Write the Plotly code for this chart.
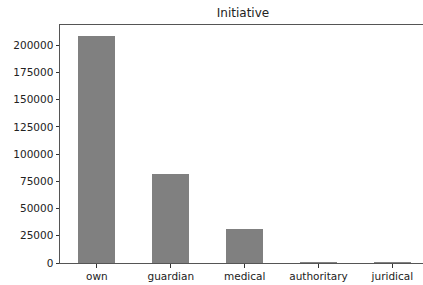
import plotly.graph_objects as go

categories = ["own", "guardian", "medical", "authoritary", "juridical"]
counts = [208200, 82200, 30900, 120, 50]
y_ticks = [0, 25000, 50000, 75000, 100000, 125000, 150000, 175000, 200000]

W, H = 423, 285
L, T, B = 60, 25, 22

fig = go.Figure()
fig.add_trace(go.Bar(
    x=list(range(len(categories))),
    y=counts,
    width=0.5,
    marker=dict(color="#808080", line=dict(width=0)),
))

font = dict(family="DejaVu Sans", size=10.5, color="#222222")
fig.update_layout(
    width=W, height=H,
    margin=dict(l=L, r=0, t=T, b=B, pad=0),
    plot_bgcolor="white", paper_bgcolor="white",
    showlegend=False,
    font=font,
    title=dict(text="Initiative", x=243 / W, xanchor="center",
               y=1 - 13 / H, yanchor="middle",
               font=dict(family="DejaVu Sans", size=12, color="#222222")),
    bargap=0,
)
fig.update_xaxes(
    range=[-0.5, 4.415],
    tickmode="array",
    tickvals=list(range(len(categories))),
    ticktext=categories,
    ticks="outside", ticklen=3.5, tickwidth=1, tickcolor="#333333",
    showline=True, linecolor="#555555", linewidth=1, mirror=True,
    showgrid=False, zeroline=False,
    tickfont=font, automargin=False,
)
fig.update_yaxes(
    range=[0, 218600],
    tickmode="array",
    tickvals=y_ticks,
    ticktext=[str(v) for v in y_ticks],
    ticks="outside", ticklen=3.5, tickwidth=1, tickcolor="#333333",
    showline=True, linecolor="#555555", linewidth=1,
    showgrid=False, zeroline=False,
    tickfont=font, automargin=False,
)

fig.write_html(
    "out.html",
    config={"displayModeBar": False},
    post_script="document.body.style.margin='0';document.body.style.overflow='hidden';",
)
